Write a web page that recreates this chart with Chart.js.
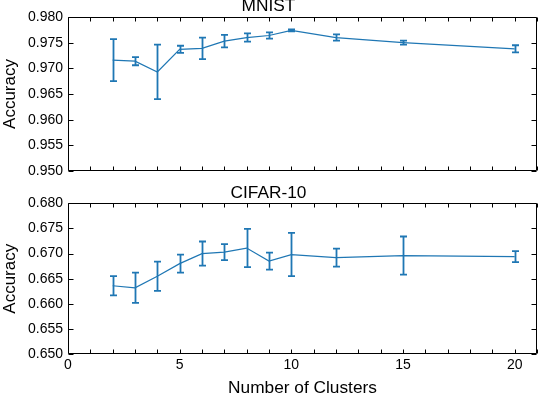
<!DOCTYPE html>
<html>
<head>
<meta charset="utf-8">
<script src="https://cdn.jsdelivr.net/npm/chart.js@4.4.0/dist/chart.umd.min.js"></script>
<style>
  html, body { margin: 0; padding: 0; background: #fff; }
  #wrap { position: relative; width: 538px; height: 396px; overflow: hidden; }
  .panel { position: absolute; left: 0; width: 538px; }
</style>
</head>
<body>
<div id="wrap">
  <div class="panel" style="top:0;height:185px"><canvas id="mnistChart"></canvas></div>
  <div class="panel" style="top:185px;height:211px"><canvas id="cifarChart"></canvas></div>
</div>
<script>
// number of clusters on the x axis
const clusters = [2, 3, 4, 5, 6, 7, 8, 9, 10, 12, 15, 20];

// MNIST accuracy and error (half range)
const mnistAcc = [0.9716, 0.9714, 0.9693, 0.9737, 0.9739, 0.9753, 0.9760, 0.9764, 0.9774, 0.9760, 0.9750, 0.9738];
const mnistErr = [0.0041, 0.0008, 0.0053, 0.0007, 0.0021, 0.0012, 0.0008, 0.0006, 0.0002, 0.0006, 0.0004, 0.0007];

// CIFAR-10 accuracy and error
const cifarAcc = [0.6636, 0.6632, 0.6655, 0.6680, 0.6700, 0.6703, 0.6711, 0.6685, 0.6698, 0.6692, 0.6696, 0.6694];
const cifarErr = [0.0019, 0.0030, 0.0029, 0.0018, 0.0024, 0.0016, 0.0038, 0.0017, 0.0043, 0.0018, 0.0038, 0.0011];

const xTickLabels = [0, 5, 10, 15, 20];

const BLUE = '#1f77b4';
const FONT = "'Liberation Sans', Arial, sans-serif";

// error bars + boxed frame with inward ticks
const errorFrame = {
    id: 'errorFrame',
    afterDatasetsDraw(chart) {
        const { ctx, chartArea: a, scales: { x, y } } = chart;
        const ds = chart.data.datasets[0];

        ctx.save();
        ctx.strokeStyle = BLUE;
        ctx.lineWidth = 1.8;
        ds.data.forEach((p, i) => {
            const err = ds.errors[i];
            const px = Math.round(x.getPixelForValue(p.x)) + 0.5;
            const top = y.getPixelForValue(p.y + err);
            const bot = y.getPixelForValue(p.y - err);
            ctx.beginPath();
            ctx.moveTo(px, top); ctx.lineTo(px, bot);
            ctx.moveTo(px - 3.5, top); ctx.lineTo(px + 3.5, top);
            ctx.moveTo(px - 3.5, bot); ctx.lineTo(px + 3.5, bot);
            ctx.stroke();
        });

        ctx.strokeStyle = '#000';
        ctx.lineWidth = 1;
        const L = Math.round(a.left) + 0.5, R = Math.round(a.right) - 0.5;
        const T = Math.round(a.top) + 0.5, B = Math.round(a.bottom) - 0.5;
        ctx.beginPath();
        ctx.rect(L, T, R - L, B - T);
        x.ticks.forEach(t => {
            const px = Math.round(x.getPixelForValue(t.value)) + 0.5;
            ctx.moveTo(px, T); ctx.lineTo(px, T + 4);
            ctx.moveTo(px, B); ctx.lineTo(px, B - 4);
        });
        y.ticks.forEach(t => {
            const py = Math.round(y.getPixelForValue(t.value)) + 0.5;
            ctx.moveTo(L, py); ctx.lineTo(L + 5, py);
            ctx.moveTo(R, py); ctx.lineTo(R - 5, py);
        });
        ctx.stroke();
        ctx.restore();
    }
};

function makeChart(id, title, values, errors, yMin, yMax, showX) {
    const ctx = document.getElementById(id).getContext('2d');
    return new Chart(ctx, {
        type: 'line',
        data: {
            datasets: [{
                data: clusters.map((c, i) => ({ x: c, y: values[i] })),
                errors: errors,
                borderColor: BLUE,
                borderWidth: 1.2,
                pointRadius: 0,
                tension: 0,
                fill: false
            }]
        },
        options: {
            responsive: true,
            maintainAspectRatio: false,
            animation: false,
            layout: { padding: { left: 0, right: 1, top: 0, bottom: showX ? 0 : 14 } },
            plugins: {
                legend: { display: false },
                tooltip: { enabled: false },
                title: {
                    display: true,
                    text: title,
                    color: '#000',
                    font: { family: FONT, size: 17.3, weight: 'normal', lineHeight: 1 },
                    padding: showX ? { top: -0.6, bottom: 1.6 } : { top: -2.6, bottom: 2.3 }
                }
            },
            scales: {
                x: {
                    type: 'linear',
                    min: 0,
                    max: 21,
                    grid: { display: false, drawTicks: false },
                    border: { display: false },
                    ticks: {
                        display: showX,
                        stepSize: 1,
                        autoSkip: false,
                        maxRotation: 0,
                        padding: 2.6,
                        color: '#000',
                        font: { family: FONT, size: 14, lineHeight: 1.2 },
                        callback: v => xTickLabels.includes(v) ? String(v) : ''
                    },
                    title: {
                        display: showX,
                        text: 'Number of Clusters',
                        color: '#000',
                        font: { family: FONT, size: 17.3, lineHeight: 1 },
                        padding: { top: 3.9, bottom: -1.35 }
                    },
                    afterFit: s => { s.paddingLeft = 0; s.paddingRight = 0; }
                },
                y: {
                    min: yMin,
                    max: yMax,
                    grid: { display: false, drawTicks: false },
                    border: { display: false },
                    ticks: {
                        stepSize: 0.005,
                        padding: 5,
                        color: '#000',
                        font: { family: FONT, size: 14, lineHeight: 1.2 },
                        callback: v => v.toFixed(3)
                    },
                    title: {
                        display: true,
                        text: 'Accuracy',
                        color: '#000',
                        font: { family: FONT, size: 17, lineHeight: 1 },
                        padding: { top: 2, bottom: 0 }
                    },
                    afterFit: s => { s.width = 68; s.paddingTop = 0; s.paddingBottom = 0; }
                }
            }
        },
        plugins: [errorFrame]
    });
}

makeChart('mnistChart', 'MNIST', mnistAcc, mnistErr, 0.95, 0.98, false);
makeChart('cifarChart', 'CIFAR-10', cifarAcc, cifarErr, 0.65, 0.68, true);
</script>
</body>
</html>
